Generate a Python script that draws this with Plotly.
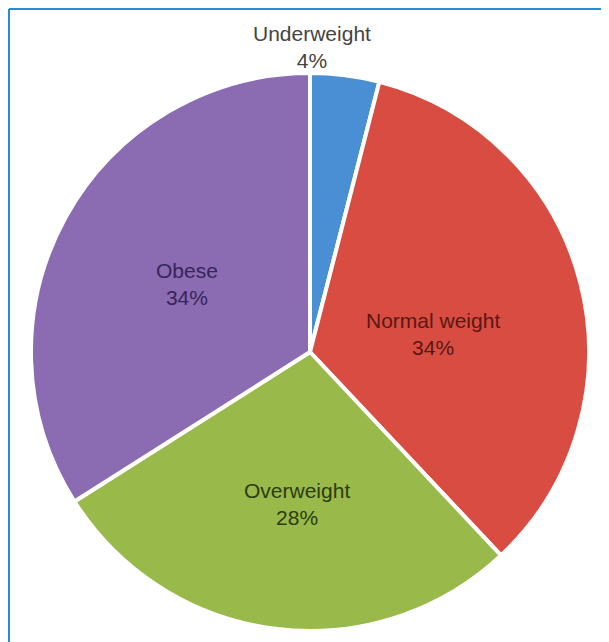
import plotly.graph_objects as go

categories = ["Underweight", "Normal weight", "Overweight", "Obese"]
values = [4, 34, 28, 34]
slice_colors = ["#4a8fd3", "#d84c42", "#99b94a", "#8b6bb1"]
text_colors = ["#444444", "#5a1812", "#2c3d0c", "#35255a"]

OFF = 8                      # default page margin of the html body
W, H = 609 - OFF, 642 - OFF
cx, cy, r = 310 - OFF, 352 - OFF, 279
FONT = "Liberation Sans, Arial, sans-serif"

# label block centres (screen pixels) as laid out in the original chart
label_xy = [(312, 47), (433, 334), (297, 504), (187, 284)]

fig = go.Figure(go.Pie(
    labels=categories,
    values=values,
    sort=False,
    direction="clockwise",
    rotation=0,
    marker=dict(colors=slice_colors, line=dict(color="white", width=4)),
    textinfo="none",
    hoverinfo="label+percent",
    showlegend=False,
    domain=dict(x=[(cx - r) / W, (cx + r) / W], y=[1 - (cy + r) / H, 1 - (cy - r) / H]),
))

for i, (lab, v) in enumerate(zip(categories, values)):
    px, py = label_xy[i][0] - OFF, label_xy[i][1] - OFF
    fig.add_annotation(
        x=px / W, y=1 - py / H, xref="paper", yref="paper",
        text=f"{lab}<br>{v}%", showarrow=False,
        font=dict(family=FONT, size=21, color=text_colors[i]),
        xanchor="center", yanchor="middle",
    )

# frame lines (top and left) of the original figure box
fy = 1 - 1 / H
fx = 1 / W
fig.add_shape(type="line", xref="paper", yref="paper", x0=fx, x1=1, y0=fy, y1=fy,
              line=dict(color="#2a8ad6", width=2))
fig.add_shape(type="line", xref="paper", yref="paper", x0=fx, x1=fx, y0=0, y1=fy,
              line=dict(color="#2a8ad6", width=2))

fig.update_layout(
    width=W, height=H,
    margin=dict(l=0, r=0, t=0, b=0),
    paper_bgcolor="white", plot_bgcolor="white",
)

fig.write_html("out.html")
